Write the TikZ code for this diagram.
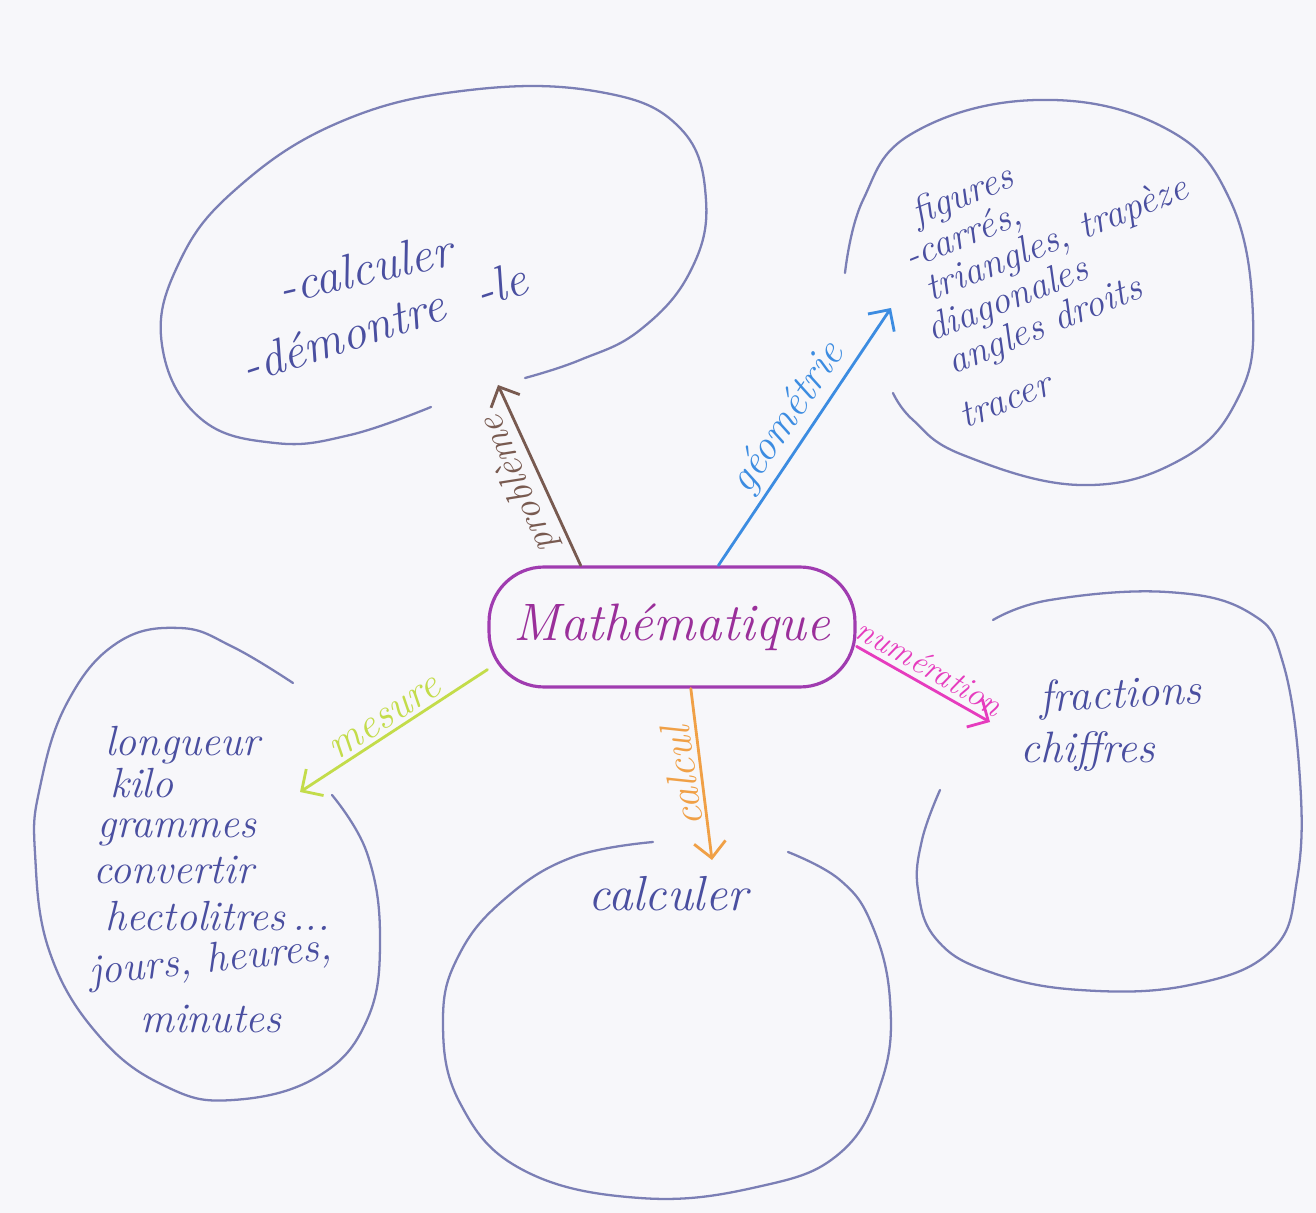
\documentclass[tikz,border=0pt]{standalone}
\usetikzlibrary{arrows.meta}
\definecolor{paper}{HTML}{F7F7FA}
\definecolor{blobc}{HTML}{7B7FB5}
\definecolor{txtc}{HTML}{4A4FA0}
\definecolor{mathb}{HTML}{A03CB0}
\definecolor{matht}{HTML}{9A2F9A}
\definecolor{proc}{HTML}{785A50}
\definecolor{geoc}{HTML}{3C8CE1}
\definecolor{mesc}{HTML}{C3DC4A}
\definecolor{numc}{HTML}{E63CBE}
\definecolor{calc}{HTML}{F0A046}
\tikzset{
  blob/.style={draw=blobc, line width=1.3pt, line cap=round},
  inner/.style={text=txtc, inner sep=0pt, font=\fontsize{22}{26}\selectfont\itshape},
  branch/.style={line width=1.6pt, line cap=round, -{Straight Barb[length=9pt,width=18pt]}},
  lbl/.style={inner sep=2pt, anchor=south, font=\fontsize{24}{28}\selectfont\itshape},
  centre/.style={draw=mathb, line width=1.8pt, rounded corners=1.1cm, minimum width=7.32cm, minimum height=2.4cm, text=matht, font=\fontsize{30}{36}\selectfont\itshape}
}
\begin{document}
\begin{tikzpicture}[x=0.02cm, y=-0.02cm]
\fill[paper] (0,0) rectangle (1316,1213);
\useasboundingbox (0,0) rectangle (1316,1213);

% centre
\node[centre] (math) at (672,627) {Mathématique};

% blobs
\draw[blob] plot[smooth, tension=0.7] coordinates {(431,407) (350,435) (275,443) (200,418) (162,345) (178,265) (235,190) (340,122) (470,90) (600,92) (680,128) (706,200) (690,272) (640,330) (580,360) (525,378)};
\draw[blob] plot[smooth, tension=0.7] coordinates {(845,273) (863,200) (913,133) (1037,100) (1163,127) (1230,200) (1253,317) (1237,400) (1180,460) (1080,485) (963,455) (913,420) (893,393)};
\draw[blob] plot[smooth, tension=0.7] coordinates {(332,795) (367,853) (380,937) (367,1020) (317,1077) (233,1100) (167,1087) (100,1037) (50,953) (35,853) (40,787) (67,703) (117,643) (180,628) (233,647) (293,683)};
\draw[blob] plot[smooth, tension=0.7] coordinates {(653,842) (573,857) (507,897) (460,953) (443,1020) (460,1103) (523,1170) (640,1198) (757,1187) (840,1153) (882,1080) (890,1000) (872,925) (840,880) (788,852)};
\draw[blob] plot[smooth, tension=0.7] coordinates {(993,620) (1050,600) (1167,592) (1250,613) (1283,663) (1300,780) (1297,880) (1272,950) (1190,985) (1080,990) (990,972) (937,940) (918,890) (922,840) (940,790)};

% arrow tips
\coordinate (protip) at (498,385);
\coordinate (geotip) at (891,308);
\coordinate (mestip) at (300,792);
\coordinate (numtip) at (990,722);
\coordinate (caltip) at (712,860);

% branches
\draw[branch, proc] (math.146) -- node[lbl, pos=0.5, rotate=113, text=proc, font=\fontsize{22}{26}\selectfont\itshape] {problème} (protip);
\draw[branch, geoc] (math.53) -- node[lbl, pos=0.52, rotate=56, text=geoc] {géométrie} (geotip);
\draw[branch, mesc] (math.193) -- node[lbl, pos=0.5, rotate=33, text=mesc] {mesure} (mestip);
\draw[branch, numc] (math.-6) -- node[lbl, pos=0.48, rotate=-30, inner sep=3pt, text=numc, font=\fontsize{19}{22}\selectfont\itshape] {numération} (numtip);
\draw[branch, calc] (math.-73) -- node[lbl, pos=0.5, rotate=98, text=calc] {calcul} (caltip);

% problème blob text
\node[inner, font=\fontsize{28}{32}\selectfont\itshape, rotate=13] (p1) at (365,268) {-calculer};
\node[inner, font=\fontsize{28}{32}\selectfont\itshape, rotate=18] (p2) at (384,322) {-démontre\hspace{0.7em}-le};

% géométrie blob text
\node[inner, anchor=north west, rotate=22, align=left, font=\fontsize{22}{21.5}\selectfont\itshape] (g1) at (878,212)
  {\hspace*{18pt}figures\\ \hspace*{4.6pt}-carrés,\\ \hspace*{8.8pt}triangles, trapèze\\ \hspace*{1pt}diagonales\\ \hspace*{4.9pt}angles droits\\[10pt] tracer};

% mesure blob text
\node[inner, anchor=base west, font=\fontsize{24}{28}\selectfont\itshape] (m1) at (105,755) {longueur};
\node[inner, anchor=base west, font=\fontsize{24}{28}\selectfont\itshape] (m2) at (110,797) {kilo};
\node[inner, anchor=base west, font=\fontsize{24}{28}\selectfont\itshape] (m3) at (97,837) {grammes};
\node[inner, anchor=base west, font=\fontsize{24}{28}\selectfont\itshape] (m4) at (93,883) {convertir};
\node[inner, anchor=base west, font=\fontsize{24}{28}\selectfont\itshape] (m5) at (105,930) {hectolitres\,...};
\node[inner, anchor=base west, font=\fontsize{24}{28}\selectfont\itshape, rotate=6] (m6) at (90,985) {jours, heures,};
\node[inner, anchor=base west, font=\fontsize{24}{28}\selectfont\itshape] (m7) at (140,1032) {minutes};

% calcul blob text
\node[inner, anchor=base west, font=\fontsize{28}{32}\selectfont\itshape] (c1) at (588,910) {calculer};

% numération blob text
\node[inner, anchor=base west, font=\fontsize{25}{30}\selectfont\itshape, rotate=3] (n1) at (1040,712) {fractions};
\node[inner, anchor=base west, font=\fontsize{25}{30}\selectfont\itshape] (n2) at (1020,762) {chiffres};
\end{tikzpicture}
\end{document}
